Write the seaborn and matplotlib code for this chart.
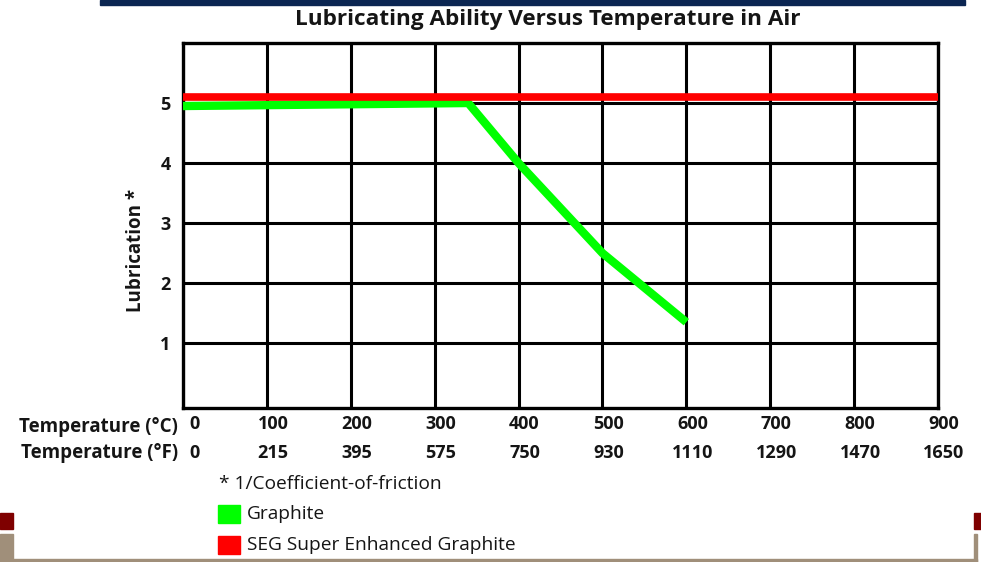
import matplotlib
matplotlib.use("Agg")
import matplotlib.pyplot as plt
import matplotlib.patches as mpatches
import matplotlib.transforms as mtransforms
import seaborn as sns
import pandas as pd

# ---- data ----
temp_c_ticks = [0, 100, 200, 300, 400, 500, 600, 700, 800, 900]
temp_f_labels = ["0", "215", "395", "575", "750", "930", "1110", "1290", "1470", "1650"]
lub_ticks = [1, 2, 3, 4, 5]

graphite_temp = [0, 340, 400, 500, 600]
graphite_lub = [4.95, 5.0, 4.0, 2.5, 1.35]

seg_temp = [0, 900]
seg_lub = [5.1, 5.1]

series_names = ["Graphite", "SEG Super Enhanced Graphite"]
series_colors = ["#00ff00", "#ff0000"]

df = pd.concat([
    pd.DataFrame({"temp": graphite_temp, "lub": graphite_lub, "series": series_names[0]}),
    pd.DataFrame({"temp": seg_temp, "lub": seg_lub, "series": series_names[1]}),
])

sns.set_theme(style="white")
plt.rcParams["font.family"] = ["Open Sans", "DejaVu Sans"]
TXT = "#151515"
plt.rcParams["text.color"] = TXT
plt.rcParams["xtick.color"] = TXT
plt.rcParams["ytick.color"] = TXT
plt.rcParams["axes.labelcolor"] = TXT

fig = plt.figure(figsize=(9.81, 5.62), dpi=100)
ax = fig.add_axes([183 / 981, 1 - 408 / 562, (938 - 183) / 981, (408 - 43) / 562])

# grid
ax.set_xticks(temp_c_ticks)
ax.set_yticks(lub_ticks)
ax.grid(True, color="black", linewidth=2.2)
ax.set_axisbelow(True)

palette = dict(zip(series_names, series_colors))
for name, lw in [(series_names[0], 6.0), (series_names[1], 5.5)]:
    sns.lineplot(data=df[df["series"] == name], x="temp", y="lub", color=palette[name],
                 linewidth=lw, ax=ax, legend=False, solid_capstyle="butt", zorder=3)

ax.set_xlim(0, 900)
ax.set_ylim(-0.08, 6)
for s in ax.spines.values():
    s.set_color("black")
    s.set_linewidth(2.4)
    s.set_visible(True)

TICK_FS = 13
ax.set_xlabel("")
ax.set_ylabel("Lubrication *", fontsize=13.5, fontweight="bold")
ax.yaxis.set_label_coords(-(183 - 146) / 755, (408 - 250) / 365)
ax.tick_params(axis="both", length=0, labelsize=TICK_FS)
ax.tick_params(axis="y", pad=9)
ax.tick_params(axis="x", pad=5)
for lab in ax.get_yticklabels():
    lab.set_fontweight("bold")
ax.set_xticklabels([str(t) for t in temp_c_ticks], fontweight="bold")

# shift x tick labels slightly right, like the reference
shift = mtransforms.ScaledTranslation(6 / 100, 0, fig.dpi_scale_trans)
shift0 = mtransforms.ScaledTranslation(12 / 100, 0, fig.dpi_scale_trans)
for i, lab in enumerate(ax.get_xticklabels()):
    lab.set_transform(lab.get_transform() + (shift0 if i == 0 else shift))

# °F row
trans = mtransforms.blended_transform_factory(ax.transData, fig.transFigure)
for i, (t, f) in enumerate(zip(temp_c_ticks, temp_f_labels)):
    ax.text(t, 1 - 453 / 562, f, transform=trans + (shift0 if i == 0 else shift),
            ha="center", va="center", fontsize=TICK_FS, fontweight="bold", clip_on=False)

fig.text(178 / 981, 1 - 427 / 562, "Temperature (°C)", ha="right", va="center",
         fontsize=13.5, fontweight="bold")
fig.text(178 / 981, 1 - 453 / 562, "Temperature (°F)", ha="right", va="center",
         fontsize=13.5, fontweight="bold")

fig.text(548 / 981, 1 - 20 / 562, "Lubricating Ability Versus Temperature in Air",
         ha="center", va="center", fontsize=16.2, fontweight="bold")

# legend / footnote
fig.text(219 / 981, 1 - 484 / 562, "* 1/Coefficient-of-friction", ha="left", va="center",
         fontsize=13.8)
for i, (name, col, yc) in enumerate(zip(series_names, series_colors, [514, 545])):
    fig.patches.append(mpatches.Rectangle((218 / 981, 1 - (yc + 9) / 562), 22 / 981, 18 / 562,
                                          transform=fig.transFigure, color=col, figure=fig))
    fig.text(247 / 981, 1 - yc / 562, name, ha="left", va="center", fontsize=13.8)

# decorations
fig.patches.append(mpatches.Rectangle((100 / 981, 1 - 5 / 562), 865 / 981, 5 / 562,
                                      transform=fig.transFigure, color="#0b2652", figure=fig))
for x0, w in [(0, 13), (974, 7)]:
    fig.patches.append(mpatches.Rectangle((x0 / 981, 1 - 529 / 562), w / 981, 16 / 562,
                                          transform=fig.transFigure, color="#7f0000", figure=fig))
tan = "#a08f7a"
fig.patches.append(mpatches.Rectangle((0, 0), 13 / 981, 28 / 562,
                                      transform=fig.transFigure, color=tan, figure=fig))
fig.patches.append(mpatches.Rectangle((0, 0), 977 / 981, 3 / 562,
                                      transform=fig.transFigure, color=tan, figure=fig))
fig.patches.append(mpatches.Rectangle((974 / 981, 0), 3 / 981, 28 / 562,
                                      transform=fig.transFigure, color=tan, figure=fig))

fig.savefig("out.png", dpi=100)
